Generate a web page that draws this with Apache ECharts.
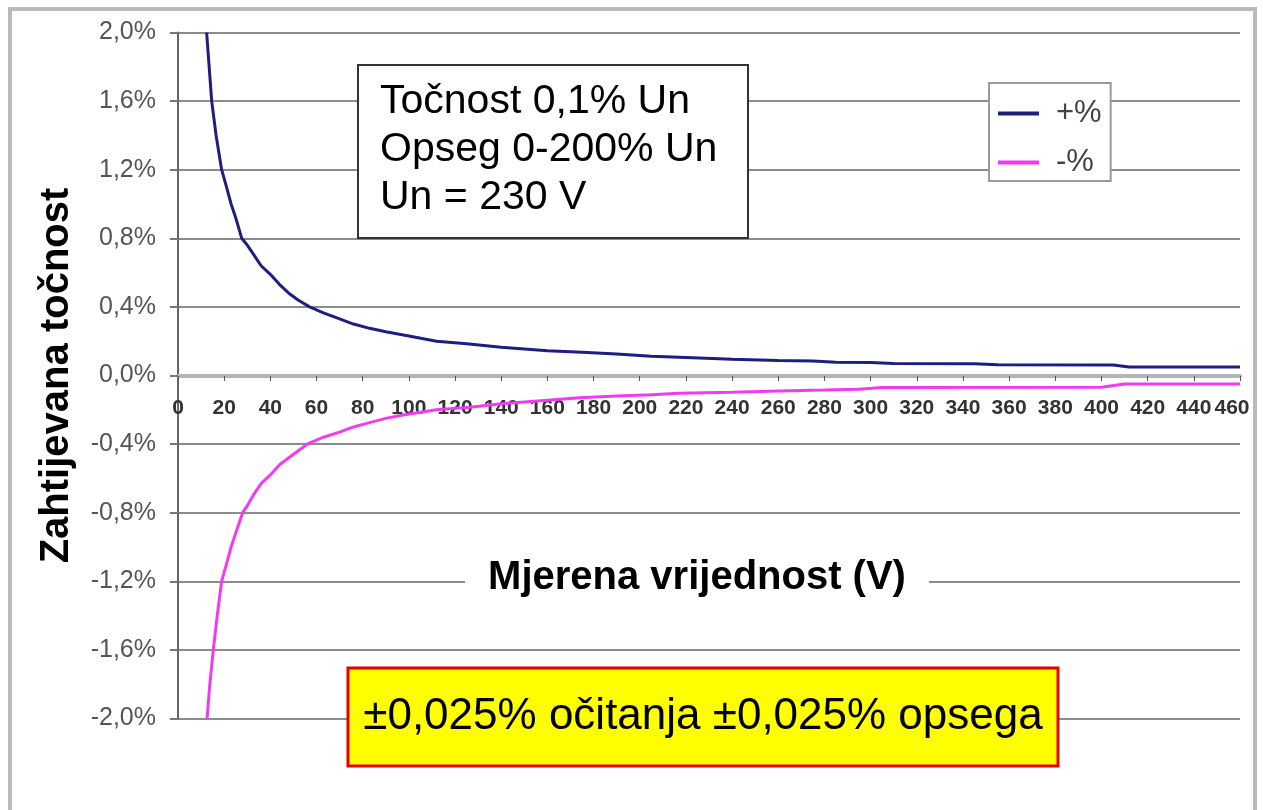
<!DOCTYPE html>
<html>
<head>
<meta charset="utf-8">
<title>Zahtijevana točnost</title>
<script src="https://cdn.jsdelivr.net/npm/echarts@6/dist/echarts.min.js"></script>
<style>
  html, body { margin: 0; padding: 0; background: #fff; }
  #chart { width: 1263px; height: 810px; }
</style>
</head>
<body>
<div id="chart"></div>
<script>
// values (V, %)
const voltsPlus = [12.4, 13.5, 14.6, 16.5, 18.9, 21, 23, 25, 27.6, 30, 33, 36, 40, 44, 48, 52, 57, 63, 70, 76, 83, 90, 100, 112, 125, 140, 160, 175, 190, 205, 220, 240, 260, 275, 285, 300, 310, 345, 355, 405, 412, 460]
const accPlus = [2.0, 1.8, 1.6, 1.4, 1.2, 1.1, 1.0, 0.92, 0.8, 0.76, 0.7, 0.64, 0.59, 0.53, 0.48, 0.44, 0.4, 0.365, 0.33, 0.3, 0.275, 0.255, 0.23, 0.2, 0.185, 0.165, 0.145, 0.135, 0.125, 0.112, 0.105, 0.095, 0.088, 0.085, 0.077, 0.076, 0.07, 0.069, 0.062, 0.061, 0.05, 0.05]

const voltsMinus = [12.6, 13.8, 15.3, 17, 18.9, 21, 23, 25, 28, 30, 33, 36, 40, 44, 48, 52, 56, 63, 70, 76, 83, 90, 97.5, 112, 126.5, 140, 160, 174, 190, 205, 217, 240, 260, 280, 295, 305, 400, 410, 460]
const accMinus = [-2.0, -1.8, -1.6, -1.4, -1.2, -1.1, -1.0, -0.92, -0.8, -0.76, -0.69, -0.63, -0.58, -0.52, -0.48, -0.44, -0.4, -0.36, -0.33, -0.3, -0.275, -0.25, -0.23, -0.2, -0.185, -0.165, -0.145, -0.13, -0.12, -0.112, -0.104, -0.097, -0.09, -0.085, -0.08, -0.07, -0.068, -0.05, -0.05]

const seriesNames = ['+%', '-%']
const yTickLabels = ['-2,0%', '-1,6%', '-1,2%', '-0,8%', '-0,4%', '0,0%', '0,4%', '0,8%', '1,2%', '1,6%', '2,0%']
const infoLines = ['Točnost 0,1% Un', 'Opseg 0-200% Un', 'Un = 230 V']
const noteText = '±0,025% očitanja ±0,025% opsega'

const FONT = '"Liberation Sans", Arial, sans-serif'

// grid box in px, the x axis sits on the 0 line
const GRID_TOP = 32.5
const GRID_BOTTOM = 91.5
const ZERO_OFFSET = -(810 - GRID_BOTTOM - 376)
const X_MAX = 460

const chart = echarts.init(document.getElementById('chart'))

function pairs(xs, ys) {
  return xs.map((x, i) => [x, ys[i]])
}

const option = {
  backgroundColor: '#fff',
  animation: false,
  textStyle: { fontFamily: FONT },
  grid: {
    left: 178,
    right: 23,
    top: GRID_TOP,
    bottom: GRID_BOTTOM,
    containLabel: false,
  },
  legend: {
    orient: 'vertical',
    left: 989,
    top: 83,
    padding: [15, 9, 3, 9],
    itemGap: 18,
    itemWidth: 41,
    itemHeight: 4,
    icon: 'rect',
    backgroundColor: '#fff',
    borderColor: '#9a9a9a',
    borderWidth: 2,
    textStyle: { fontSize: 31, lineHeight: 30, color: '#444', padding: [0, 0, 0, 12] },
    data: seriesNames,
  },
  xAxis: {
    type: 'value',
    min: 0,
    max: X_MAX,
    interval: 20,
    offset: ZERO_OFFSET,
    axisLine: { onZero: false, lineStyle: { color: '#b5b5b5', width: 4 } },
    axisTick: { length: 5, lineStyle: { color: '#555', width: 1 } },
    axisLabel: {
      margin: 22,
      fontSize: 21,
      fontWeight: 'bold',
      color: '#333',
      hideOverlap: false,
      showMinLabel: true,
      showMaxLabel: true,
      // last label is nudged left so it stays inside the frame
      formatter: v => (v === X_MAX ? '{last|' + v + '}' : String(v)),
      rich: {
        last: { fontSize: 21, fontWeight: 'bold', color: '#333', padding: [0, 16, 0, 0] },
      },
    },
    splitLine: { show: false },
  },
  yAxis: {
    type: 'value',
    min: -2,
    max: 2,
    interval: 0.4,
    name: 'Zahtijevana točnost',
    nameLocation: 'middle',
    nameRotate: 90,
    nameGap: 101,
    nameTextStyle: { fontSize: 40, fontWeight: 'bold', color: '#000' },
    axisLine: { show: true, onZero: false, lineStyle: { color: '#666', width: 2 } },
    axisTick: { show: true, length: 8, lineStyle: { color: '#777', width: 2 } },
    axisLabel: {
      margin: 22,
      fontSize: 25,
      color: '#555',
      formatter: v => yTickLabels[Math.round((v + 2) / 0.4)],
    },
    splitLine: { lineStyle: { color: '#8c8c8c', width: 2 } },
  },
  series: [
    {
      name: seriesNames[0],
      type: 'line',
      data: pairs(voltsPlus, accPlus),
      showSymbol: false,
      lineStyle: { width: 3, color: '#1e1e80' },
      itemStyle: { color: '#1e1e80' },
    },
    {
      name: seriesNames[1],
      type: 'line',
      data: pairs(voltsMinus, accMinus),
      showSymbol: false,
      lineStyle: { width: 3, color: '#f03cf0' },
      itemStyle: { color: '#f03cf0' },
    },
  ],
  graphic: [
    // outer frame
    {
      type: 'rect',
      shape: { x: 10, y: 9, width: 1245, height: 900 },
      style: { fill: 'none', stroke: '#bbb', lineWidth: 4 },
      silent: true,
      z: 100,
    },
    // info box
    {
      type: 'rect',
      z: 100,
      shape: { x: 358, y: 65, width: 390, height: 173 },
      style: { fill: '#fff', stroke: '#333', lineWidth: 2 },
    },
    {
      type: 'text',
      z: 101,
      x: 380,
      y: 78,
      style: {
        text: infoLines.join('\n'),
        font: '41px ' + FONT,
        lineHeight: 48,
        fill: '#000',
      },
    },
    // x axis title, white background breaks the gridline
    {
      type: 'text',
      z: 100,
      x: 697,
      y: 578,
      style: {
        text: 'Mjerena vrijednost (V)',
        font: 'bold 40px ' + FONT,
        fill: '#000',
        align: 'center',
        verticalAlign: 'middle',
        backgroundColor: '#fff',
        padding: [2, 23],
      },
    },
    // yellow note
    {
      type: 'rect',
      z: 100,
      shape: { x: 348, y: 668, width: 710, height: 98 },
      style: { fill: '#ffff00', stroke: '#e20000', lineWidth: 3 },
    },
    {
      type: 'text',
      z: 101,
      x: 703,
      y: 717,
      style: {
        text: noteText,
        font: '44px ' + FONT,
        fill: '#000',
        align: 'center',
        verticalAlign: 'middle',
      },
    },
  ],
}

chart.setOption(option)
window.addEventListener('resize', () => chart.resize())
</script>
</body>
</html>
